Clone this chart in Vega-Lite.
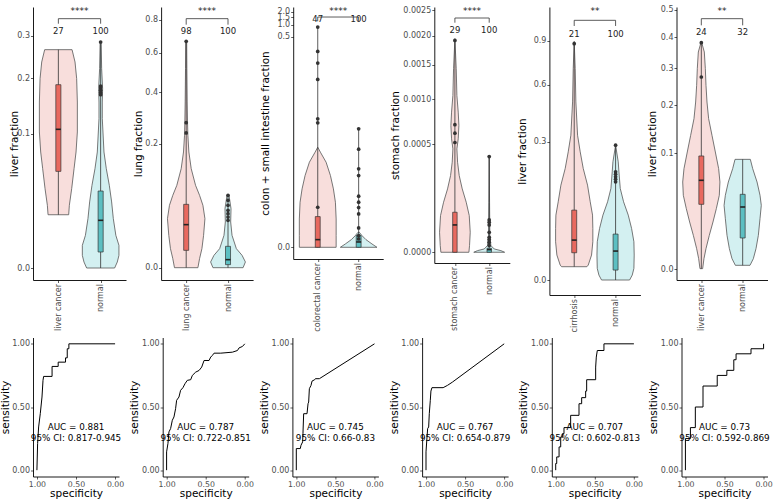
{
"$schema":"https://vega.github.io/schema/vega-lite/v6.json",
"padding":{"left":0,"top":5,"right":0,"bottom":0},
"background":"white",
"config":{
"view":{"stroke":null},
"font":"DejaVu Sans",
"axis":{"grid":false,"domainColor":"#000","domainWidth":0.9,"tickColor":"#333","tickSize":2.5,"tickWidth":0.8,"labelColor":"#4d4d4d","labelFontSize":8,"labelFont":"DejaVu Sans","titleFont":"DejaVu Sans","titleFontSize":10.5,"titleFontWeight":"normal","titleColor":"#000","labelPadding":1,"titlePadding":1,"labelOverlap":false,"labelFlush":false},
"axisX":{"labelOverlap":false},
"axisY":{"labelOverlap":false},
"axisQuantitative":{"labelOverlap":false},
"text":{"font":"DejaVu Sans","fontSize":8.5,"color":"#222","baseline":"middle"},
"rule":{"color":"#333","strokeWidth":0.8},
"circle":{"color":"#333","size":14,"opacity":1}
},
"datasets":{
"violin":[
{"p":1,"c":"case","y":0.2654,"d":0.324},{"p":1,"c":"case","y":0.2363,"d":0.394},{"p":1,"c":"case","y":0.1996,"d":0.433},{"p":1,"c":"case","y":0.1534,"d":0.449},{"p":1,"c":"case","y":0.103,"d":0.449},{"p":1,"c":"case","y":0.0749,"d":0.418},{"p":1,"c":"case","y":0.0549,"d":0.371},{"p":1,"c":"case","y":0.035,"d":0.315},{"p":1,"c":"case","y":0.0219,"d":0.26},{"p":1,"c":"case","y":0.0158,"d":0.244},
{"p":1,"c":"normal","y":0.2844,"d":0.012},{"p":1,"c":"normal","y":0.2212,"d":0.024},{"p":1,"c":"normal","y":0.1791,"d":0.047},{"p":1,"c":"normal","y":0.1534,"d":0.039},{"p":1,"c":"normal","y":0.1242,"d":0.039},{"p":1,"c":"normal","y":0.0749,"d":0.079},{"p":1,"c":"normal","y":0.0549,"d":0.134},{"p":1,"c":"normal","y":0.0381,"d":0.205},{"p":1,"c":"normal","y":0.0243,"d":0.26},{"p":1,"c":"normal","y":0.01355,"d":0.3},{"p":1,"c":"normal","y":0.00594,"d":0.36},{"p":1,"c":"normal","y":0.00286,"d":0.433},{"p":1,"c":"normal","y":0.000893,"d":0.433},{"p":1,"c":"normal","y":0.0002,"d":0.394},{"p":1,"c":"normal","y":0,"d":0.331},
{"p":2,"c":"case","y":0.6664,"d":0.012},{"p":2,"c":"case","y":0.5152,"d":0.016},{"p":2,"c":"case","y":0.3571,"d":0.024},{"p":2,"c":"case","y":0.2761,"d":0.032},{"p":2,"c":"case","y":0.2279,"d":0.04},{"p":2,"c":"case","y":0.1741,"d":0.064},{"p":2,"c":"case","y":0.1275,"d":0.12},{"p":2,"c":"case","y":0.0882,"d":0.224},{"p":2,"c":"case","y":0.0681,"d":0.32},{"p":2,"c":"case","y":0.0506,"d":0.4},{"p":2,"c":"case","y":0.03126,"d":0.448},{"p":2,"c":"case","y":0.01362,"d":0.416},{"p":2,"c":"case","y":0.00471,"d":0.376},{"p":2,"c":"case","y":0.00106,"d":0.32},{"p":2,"c":"case","y":0,"d":0.28},
{"p":2,"c":"normal","y":0.0681,"d":0.024},{"p":2,"c":"normal","y":0.0453,"d":0.072},{"p":2,"c":"normal","y":0.02716,"d":0.064},{"p":2,"c":"normal","y":0.01362,"d":0.096},{"p":2,"c":"normal","y":0.00471,"d":0.2},{"p":2,"c":"normal","y":0.00199,"d":0.336},{"p":2,"c":"normal","y":0.000424,"d":0.416},{"p":2,"c":"normal","y":0,"d":0.36},
{"p":3,"c":"case","y":5.2e-5,"d":0},{"p":3,"c":"case","y":2.76e-5,"d":0.065},{"p":3,"c":"case","y":7.01e-6,"d":0.204},{"p":3,"c":"case","y":8.53e-7,"d":0.31},{"p":3,"c":"case","y":6.7e-8,"d":0.383},{"p":3,"c":"case","y":2.73e-9,"d":0.432},{"p":3,"c":"case","y":8.9e-12,"d":0.45},{"p":3,"c":"case","y":1.6e-16,"d":0.45},{"p":3,"c":"case","y":0,"d":0.45},
{"p":3,"c":"normal","y":3.5e-15,"d":0.016},{"p":3,"c":"normal","y":1.6e-16,"d":0.081},{"p":3,"c":"normal","y":8.8e-19,"d":0.179},{"p":3,"c":"normal","y":3e-23,"d":0.326},{"p":3,"c":"normal","y":0,"d":0.448},
{"p":4,"c":"case","y":0.001946,"d":0},{"p":4,"c":"case","y":0.001437,"d":0.039},{"p":4,"c":"case","y":0.001049,"d":0.058},{"p":4,"c":"case","y":0.000838,"d":0.097},{"p":4,"c":"case","y":0.000686,"d":0.117},{"p":4,"c":"case","y":0.000549,"d":0.097},{"p":4,"c":"case","y":0.000456,"d":0.058},{"p":4,"c":"case","y":0.000346,"d":0.078},{"p":4,"c":"case","y":0.000251,"d":0.126},{"p":4,"c":"case","y":0.0001714,"d":0.214},{"p":4,"c":"case","y":0.0001069,"d":0.33},{"p":4,"c":"case","y":5.75e-5,"d":0.418},{"p":4,"c":"case","y":1.71e-5,"d":0.447},{"p":4,"c":"case","y":1.9e-6,"d":0.427},{"p":4,"c":"case","y":0,"d":0.408},
{"p":4,"c":"normal","y":0.0003995,"d":0},{"p":4,"c":"normal","y":0.0001069,"d":0.01},{"p":4,"c":"normal","y":1.19e-5,"d":0.019},{"p":4,"c":"normal","y":1.9e-6,"d":0.049},{"p":4,"c":"normal","y":4.7e-7,"d":0.146},{"p":4,"c":"normal","y":1.19e-7,"d":0.34},{"p":4,"c":"normal","y":0,"d":0.45},
{"p":5,"c":"case","y":0.8957,"d":0},{"p":5,"c":"case","y":0.7025,"d":0.024},{"p":5,"c":"case","y":0.4986,"d":0.04},{"p":5,"c":"case","y":0.3296,"d":0.081},{"p":5,"c":"case","y":0.2582,"d":0.145},{"p":5,"c":"case","y":0.1955,"d":0.218},{"p":5,"c":"case","y":0.1415,"d":0.322},{"p":5,"c":"case","y":0.0962,"d":0.387},{"p":5,"c":"case","y":0.0662,"d":0.443},{"p":5,"c":"case","y":0.0418,"d":0.45},{"p":5,"c":"case","y":0.023,"d":0.45},{"p":5,"c":"case","y":0.00978,"d":0.419},{"p":5,"c":"case","y":0.00352,"d":0.339},{"p":5,"c":"case","y":0.00278,"d":0.306},
{"p":5,"c":"normal","y":0.2857,"d":0},{"p":5,"c":"normal","y":0.2195,"d":0.064},{"p":5,"c":"normal","y":0.184,"d":0.081},{"p":5,"c":"normal","y":0.1317,"d":0.113},{"p":5,"c":"normal","y":0.0962,"d":0.193},{"p":5,"c":"normal","y":0.0662,"d":0.306},{"p":5,"c":"normal","y":0.0418,"d":0.387},{"p":5,"c":"normal","y":0.023,"d":0.443},{"p":5,"c":"normal","y":0.00978,"d":0.45},{"p":5,"c":"normal","y":0.002123,"d":0.443},{"p":5,"c":"normal","y":0.000387,"d":0.403},{"p":5,"c":"normal","y":0,"d":0.339},
{"p":6,"c":"case","y":0.3853,"d":0},{"p":6,"c":"case","y":0.35,"d":0.0725},{"p":6,"c":"case","y":0.2984,"d":0.097},{"p":6,"c":"case","y":0.2509,"d":0.113},{"p":6,"c":"case","y":0.2074,"d":0.137},{"p":6,"c":"case","y":0.1682,"d":0.177},{"p":6,"c":"case","y":0.133,"d":0.258},{"p":6,"c":"case","y":0.102,"d":0.339},{"p":6,"c":"case","y":0.0751,"d":0.419},{"p":6,"c":"case","y":0.0565,"d":0.45},{"p":6,"c":"case","y":0.0406,"d":0.435},{"p":6,"c":"case","y":0.02726,"d":0.363},{"p":6,"c":"case","y":0.01659,"d":0.282},{"p":6,"c":"case","y":0.00855,"d":0.193},{"p":6,"c":"case","y":0.00316,"d":0.113},{"p":6,"c":"case","y":0.000838,"d":0.064},{"p":6,"c":"case","y":0.0000029,"d":0.032},
{"p":6,"c":"normal","y":0.0896,"d":0.185},{"p":6,"c":"normal","y":0.0751,"d":0.242},{"p":6,"c":"normal","y":0.0565,"d":0.347},{"p":6,"c":"normal","y":0.0406,"d":0.419},{"p":6,"c":"normal","y":0.03033,"d":0.45},{"p":6,"c":"normal","y":0.019,"d":0.419},{"p":6,"c":"normal","y":0.00855,"d":0.379},{"p":6,"c":"normal","y":0.00316,"d":0.322},{"p":6,"c":"normal","y":0.000838,"d":0.258},{"p":6,"c":"normal","y":0.000117,"d":0.177}
],
"box":[
{"p":1,"c":"case","lo":0.0158,"q1":0.052,"med":0.1071,"q3":0.1871,"hi":0.2654},
{"p":1,"c":"normal","lo":0,"q1":0.00143,"med":0.01266,"q3":0.033,"hi":0.2844},
{"p":2,"c":"case","lo":0,"q1":0.00392,"med":0.0241,"q3":0.0522,"hi":0.6664},
{"p":2,"c":"normal","lo":0,"q1":0.00012,"med":0.00084,"q3":0.00594,"hi":0.0681},
{"p":3,"c":"case","lo":0,"q1":0,"med":8.8e-19,"q3":2.4e-11,"hi":0.8795},
{"p":3,"c":"normal","lo":0,"q1":0,"med":1e-20,"q3":1.6e-16,"hi":0.000416},
{"p":4,"c":"case","lo":0,"q1":0,"med":3.19e-5,"q3":6.84e-5,"hi":0.001915},
{"p":4,"c":"normal","lo":0,"q1":0,"med":3e-7,"q3":6.8e-7,"hi":0.000391},
{"p":5,"c":"case","lo":0.00278,"q1":0.01169,"med":0.02506,"q3":0.0768,"hi":0.8782},
{"p":5,"c":"normal","lo":0,"q1":0.00156,"med":0.01317,"q3":0.03315,"hi":0.2857},
{"p":6,"c":"case","lo":0.0000029,"q1":0.0313,"med":0.0587,"q3":0.0952,"hi":0.3853},
{"p":6,"c":"normal","lo":0.000117,"q1":0.00726,"med":0.02877,"q3":0.04166,"hi":0.0896}
],
"pts":[
{"p":1,"c":"normal","v":0.2844},{"p":1,"c":"normal","v":0.1844},{"p":1,"c":"normal","v":0.1804},{"p":1,"c":"normal","v":0.1757},{"p":1,"c":"normal","v":0.1711},{"p":1,"c":"normal","v":0.1673},
{"p":2,"c":"case","v":0.6664},{"p":2,"c":"case","v":0.2735},{"p":2,"c":"case","v":0.236},
{"p":2,"c":"normal","v":0.0681},{"p":2,"c":"normal","v":0.059},{"p":2,"c":"normal","v":0.0506},{"p":2,"c":"normal","v":0.0428},{"p":2,"c":"normal","v":0.038},{"p":2,"c":"normal","v":0.0334},{"p":2,"c":"normal","v":0.0292},
{"p":3,"c":"case","v":0.8795},{"p":3,"c":"case","v":0.2069},{"p":3,"c":"case","v":0.0968},{"p":3,"c":"case","v":0.0307},{"p":3,"c":"case","v":0.00113},{"p":3,"c":"case","v":0.000767},{"p":3,"c":"case","v":6.37e-10},
{"p":3,"c":"normal","v":0.000416},{"p":3,"c":"normal","v":4.05e-5},{"p":3,"c":"normal","v":2.56e-6},{"p":3,"c":"normal","v":8.53e-7},{"p":3,"c":"normal","v":1.28e-8},{"p":3,"c":"normal","v":2.73e-9},{"p":3,"c":"normal","v":5.7e-10},{"p":3,"c":"normal","v":6.7e-11},{"p":3,"c":"normal","v":8e-14},{"p":3,"c":"normal","v":1.6e-16},{"p":3,"c":"normal","v":2.5e-18},
{"p":4,"c":"case","v":0.001915},{"p":4,"c":"case","v":0.000695},{"p":4,"c":"case","v":0.000605},{"p":4,"c":"case","v":0.000514},
{"p":4,"c":"normal","v":0.000391},{"p":4,"c":"normal","v":4.47e-5},{"p":4,"c":"normal","v":3.85e-5},{"p":4,"c":"normal","v":3.19e-5},{"p":4,"c":"normal","v":1.71e-5},{"p":4,"c":"normal","v":9.6e-6},{"p":4,"c":"normal","v":6.86e-6},{"p":4,"c":"normal","v":4.27e-6},{"p":4,"c":"normal","v":1.9e-6},
{"p":5,"c":"case","v":0.8782},
{"p":5,"c":"normal","v":0.2857},{"p":5,"c":"normal","v":0.184},{"p":5,"c":"normal","v":0.1761},{"p":5,"c":"normal","v":0.1674},{"p":5,"c":"normal","v":0.1599},{"p":5,"c":"normal","v":0.1516},
{"p":6,"c":"case","v":0.3807},{"p":6,"c":"case","v":0.2741}
],
"nlab":[
{"p":1,"c":"case","n":"27","ny":0.3119},{"p":1,"c":"normal","n":"100","ny":0.3119},
{"p":2,"c":"case","n":"98","ny":0.7266},{"p":2,"c":"normal","n":"100","ny":0.7266},
{"p":3,"c":"case","n":"47","ny":1.342},{"p":3,"c":"normal","n":"100","ny":1.342},
{"p":4,"c":"case","n":"29","ny":0.0021},{"p":4,"c":"normal","n":"100","ny":0.0021},
{"p":5,"c":"case","n":"21","ny":0.9541},{"p":5,"c":"normal","n":"100","ny":0.9541},
{"p":6,"c":"case","n":"24","ny":0.4174},{"p":6,"c":"normal","n":"32","ny":0.4174}
],
"brk":[
{"p":1,"b1":0.3461,"b2":0.3323,"s":0.3678,"st":"****"},
{"p":2,"b1":0.8065,"b2":0.7681,"s":0.857,"st":"****"},
{"p":3,"b1":1.522,"b2":1.204,"s":2.092,"st":"****"},
{"p":4,"b1":0.002341,"b2":0.002248,"s":0.002482,"st":"****"},
{"p":5,"b1":1.0601,"b2":1.0143,"s":1.1375,"st":"**"},
{"p":6,"b1":0.4656,"b2":0.4412,"s":0.4945,"st":"**"}
],
"roc":[
{"p":1,"i":1,"sp":1,"se":0},{"p":1,"i":2,"sp":0.991,"se":0.211},{"p":1,"i":3,"sp":0.978,"se":0.342},{"p":1,"i":4,"sp":0.957,"se":0.447},{"p":1,"i":5,"sp":0.935,"se":0.579},{"p":1,"i":6,"sp":0.922,"se":0.711},{"p":1,"i":7,"sp":0.914,"se":0.742},{"p":1,"i":8,"sp":0.806,"se":0.742},{"p":1,"i":9,"sp":0.806,"se":0.821},{"p":1,"i":10,"sp":0.728,"se":0.821},{"p":1,"i":11,"sp":0.728,"se":0.855},{"p":1,"i":12,"sp":0.634,"se":0.855},{"p":1,"i":13,"sp":0.634,"se":0.889},{"p":1,"i":14,"sp":0.612,"se":0.889},{"p":1,"i":15,"sp":0.612,"se":0.961},{"p":1,"i":16,"sp":0.591,"se":0.961},{"p":1,"i":17,"sp":0.591,"se":1},{"p":1,"i":18,"sp":0,"se":1},
{"p":2,"i":1,"sp":1,"se":0},{"p":2,"i":2,"sp":1,"se":0.145},{"p":2,"i":3,"sp":0.983,"se":0.211},{"p":2,"i":4,"sp":0.97,"se":0.303},{"p":2,"i":5,"sp":0.949,"se":0.329},{"p":2,"i":6,"sp":0.927,"se":0.395},{"p":2,"i":7,"sp":0.906,"se":0.421},{"p":2,"i":8,"sp":0.885,"se":0.487},{"p":2,"i":9,"sp":0.872,"se":0.553},{"p":2,"i":10,"sp":0.842,"se":0.579},{"p":2,"i":11,"sp":0.821,"se":0.632},{"p":2,"i":12,"sp":0.791,"se":0.653},{"p":2,"i":13,"sp":0.765,"se":0.684},{"p":2,"i":14,"sp":0.735,"se":0.711},{"p":2,"i":15,"sp":0.692,"se":0.716},{"p":2,"i":16,"sp":0.671,"se":0.75},{"p":2,"i":17,"sp":0.628,"se":0.776},{"p":2,"i":18,"sp":0.585,"se":0.789},{"p":2,"i":19,"sp":0.551,"se":0.816},{"p":2,"i":20,"sp":0.521,"se":0.868},{"p":2,"i":21,"sp":0.457,"se":0.868},{"p":2,"i":22,"sp":0.436,"se":0.895},{"p":2,"i":23,"sp":0.415,"se":0.908},{"p":2,"i":24,"sp":0.393,"se":0.926},{"p":2,"i":25,"sp":0.308,"se":0.926},{"p":2,"i":26,"sp":0.158,"se":0.934},{"p":2,"i":27,"sp":0.094,"se":0.947},{"p":2,"i":28,"sp":0.073,"se":0.968},{"p":2,"i":29,"sp":0.03,"se":0.979},{"p":2,"i":30,"sp":0,"se":1},
{"p":3,"i":1,"sp":1,"se":0},{"p":3,"i":2,"sp":1,"se":0.171},{"p":3,"i":3,"sp":0.949,"se":0.171},{"p":3,"i":4,"sp":0.94,"se":0.197},{"p":3,"i":5,"sp":0.919,"se":0.224},{"p":3,"i":6,"sp":0.915,"se":0.289},{"p":3,"i":7,"sp":0.906,"se":0.447},{"p":3,"i":8,"sp":0.863,"se":0.447},{"p":3,"i":9,"sp":0.85,"se":0.526},{"p":3,"i":10,"sp":0.842,"se":0.539},{"p":3,"i":11,"sp":0.833,"se":0.645},{"p":3,"i":12,"sp":0.812,"se":0.671},{"p":3,"i":13,"sp":0.799,"se":0.705},{"p":3,"i":14,"sp":0.765,"se":0.716},{"p":3,"i":15,"sp":0.756,"se":0.724},{"p":3,"i":16,"sp":0.705,"se":0.724},{"p":3,"i":17,"sp":0,"se":1},
{"p":4,"i":1,"sp":1,"se":0},{"p":4,"i":2,"sp":1,"se":0.145},{"p":4,"i":3,"sp":0.987,"se":0.263},{"p":4,"i":4,"sp":0.979,"se":0.329},{"p":4,"i":5,"sp":0.966,"se":0.342},{"p":4,"i":6,"sp":0.958,"se":0.447},{"p":4,"i":7,"sp":0.945,"se":0.553},{"p":4,"i":8,"sp":0.937,"se":0.626},{"p":4,"i":9,"sp":0.924,"se":0.653},{"p":4,"i":10,"sp":0.781,"se":0.653},{"p":4,"i":11,"sp":0.726,"se":0.671},{"p":4,"i":12,"sp":0.662,"se":0.697},{"p":4,"i":13,"sp":0,"se":1},
{"p":5,"i":1,"sp":1,"se":0},{"p":5,"i":2,"sp":1,"se":0.053},{"p":5,"i":3,"sp":0.987,"se":0.053},{"p":5,"i":4,"sp":0.987,"se":0.105},{"p":5,"i":5,"sp":0.957,"se":0.105},{"p":5,"i":6,"sp":0.957,"se":0.184},{"p":5,"i":7,"sp":0.936,"se":0.184},{"p":5,"i":8,"sp":0.936,"se":0.263},{"p":5,"i":9,"sp":0.915,"se":0.263},{"p":5,"i":10,"sp":0.915,"se":0.289},{"p":5,"i":11,"sp":0.894,"se":0.289},{"p":5,"i":12,"sp":0.894,"se":0.337},{"p":5,"i":13,"sp":0.809,"se":0.337},{"p":5,"i":14,"sp":0.809,"se":0.434},{"p":5,"i":15,"sp":0.702,"se":0.434},{"p":5,"i":16,"sp":0.702,"se":0.526},{"p":5,"i":17,"sp":0.668,"se":0.526},{"p":5,"i":18,"sp":0.668,"se":0.574},{"p":5,"i":19,"sp":0.617,"se":0.574},{"p":5,"i":20,"sp":0.617,"se":0.626},{"p":5,"i":21,"sp":0.604,"se":0.626},{"p":5,"i":22,"sp":0.604,"se":0.716},{"p":5,"i":23,"sp":0.489,"se":0.716},{"p":5,"i":24,"sp":0.489,"se":0.816},{"p":5,"i":25,"sp":0.481,"se":0.895},{"p":5,"i":26,"sp":0.468,"se":0.947},{"p":5,"i":27,"sp":0.383,"se":0.947},{"p":5,"i":28,"sp":0.383,"se":1},{"p":5,"i":29,"sp":0,"se":1},
{"p":6,"i":1,"sp":1,"se":0},{"p":6,"i":2,"sp":1,"se":0.25},{"p":6,"i":3,"sp":0.936,"se":0.25},{"p":6,"i":4,"sp":0.936,"se":0.337},{"p":6,"i":5,"sp":0.873,"se":0.337},{"p":6,"i":6,"sp":0.873,"se":0.5},{"p":6,"i":7,"sp":0.775,"se":0.5},{"p":6,"i":8,"sp":0.775,"se":0.666},{"p":6,"i":9,"sp":0.593,"se":0.666},{"p":6,"i":10,"sp":0.593,"se":0.75},{"p":6,"i":11,"sp":0.47,"se":0.75},{"p":6,"i":12,"sp":0.47,"se":0.79},{"p":6,"i":13,"sp":0.381,"se":0.79},{"p":6,"i":14,"sp":0.381,"se":0.874},{"p":6,"i":15,"sp":0.352,"se":0.874},{"p":6,"i":16,"sp":0.352,"se":0.921},{"p":6,"i":17,"sp":0.161,"se":0.921},{"p":6,"i":18,"sp":0.161,"se":0.961},{"p":6,"i":19,"sp":0,"se":0.961},{"p":6,"i":20,"sp":0,"se":1}
],
"auc":[
{"p":1,"sp":0.5,"se":0.34,"t":"AUC = 0.881"},{"p":1,"sp":0.5,"se":0.255,"t":"95% CI: 0.817-0.945"},
{"p":2,"sp":0.5,"se":0.34,"t":"AUC = 0.787"},{"p":2,"sp":0.5,"se":0.255,"t":"95% CI: 0.722-0.851"},
{"p":3,"sp":0.5,"se":0.34,"t":"AUC = 0.745"},{"p":3,"sp":0.5,"se":0.255,"t":"95% CI: 0.66-0.83"},
{"p":4,"sp":0.5,"se":0.34,"t":"AUC = 0.767"},{"p":4,"sp":0.5,"se":0.255,"t":"95% CI: 0.654-0.879"},
{"p":5,"sp":0.5,"se":0.34,"t":"AUC = 0.707"},{"p":5,"sp":0.5,"se":0.255,"t":"95% CI: 0.602-0.813"},
{"p":6,"sp":0.5,"se":0.34,"t":"AUC = 0.73"},{"p":6,"sp":0.5,"se":0.255,"t":"95% CI: 0.592-0.869"}
]
},
"spacing":5.5,
"vconcat":[
{"spacing":7.1,"hconcat":[
{"width":93,"height":273,"layer":[
{"data":{"name":"violin"},"transform":[{"filter":"datum.p == 1"},{"calculate":"datum.c === 'normal' ? 2 : 1","as":"gi"},{"calculate":"datum.gi - datum.d","as":"lo"},{"calculate":"datum.gi + datum.d","as":"hi"}],
"mark":{"type":"area","orient":"horizontal","stroke":"#555","strokeWidth":0.8},
"encoding":{"y":{"field":"y","type":"quantitative","title":"liver fraction","scale":{"type":"sqrt","domain":[-0.0008,0.3793],"nice":false,"zero":false},"axis":{"values":[0,0.1,0.2,0.3],"format":".1f","minExtent":13,"maxExtent":13}},
"x":{"field":"lo","type":"quantitative","title":null,"scale":{"domain":[0.4,2.6],"nice":false,"zero":false},"axis":{"values":[1,2],"labelAngle":270,"labelExpr":"datum.value == 1 ? 'liver cancer' : 'normal'"}},
"x2":{"field":"hi"},
"fill":{"field":"c","type":"nominal","scale":{"domain":["case","normal"],"range":["#F8DEDC","#D3F0F1"]},"legend":null}}},
{"data":{"name":"box"},"transform":[{"filter":"datum.p == 1"},{"calculate":"datum.c === 'normal' ? 2 : 1","as":"gi"},{"calculate":"datum.gi - 0.06","as":"bl"},{"calculate":"datum.gi + 0.06","as":"br"}],
"layer":[
{"mark":"rule","encoding":{"x":{"field":"gi","type":"quantitative","title":null,"scale":{"domain":[0.4,2.6],"nice":false,"zero":false}},"y":{"field":"lo","type":"quantitative","title":"liver fraction","scale":{"type":"sqrt","domain":[-0.0008,0.3793],"nice":false,"zero":false}},"y2":{"field":"hi"}}},
{"mark":{"type":"rect","stroke":"#333","strokeWidth":0.7},"encoding":{"x":{"field":"bl","type":"quantitative","title":null,"scale":{"domain":[0.4,2.6],"nice":false,"zero":false}},"x2":{"field":"br"},"y":{"field":"q1","type":"quantitative","title":"liver fraction","scale":{"type":"sqrt","domain":[-0.0008,0.3793],"nice":false,"zero":false}},"y2":{"field":"q3"},"color":{"field":"c","type":"nominal","scale":{"domain":["case","normal"],"range":["#E8695F","#5CBFC2"]},"legend":null}}},
{"mark":{"type":"rule","strokeWidth":1.6,"color":"#222"},"encoding":{"x":{"field":"bl","type":"quantitative","title":null,"scale":{"domain":[0.4,2.6],"nice":false,"zero":false}},"x2":{"field":"br"},"y":{"field":"med","type":"quantitative","title":"liver fraction","scale":{"type":"sqrt","domain":[-0.0008,0.3793],"nice":false,"zero":false}}}}
]},
{"data":{"name":"pts"},"transform":[{"filter":"datum.p == 1"},{"calculate":"datum.c === 'normal' ? 2 : 1","as":"gi"}],"mark":"circle",
"encoding":{"x":{"field":"gi","type":"quantitative","title":null,"scale":{"domain":[0.4,2.6],"nice":false,"zero":false}},"y":{"field":"v","type":"quantitative","title":"liver fraction","scale":{"type":"sqrt","domain":[-0.0008,0.3793],"nice":false,"zero":false}}}},
{"data":{"name":"nlab"},"transform":[{"filter":"datum.p == 1"},{"calculate":"datum.c === 'normal' ? 2 : 1","as":"gi"}],"mark":"text",
"encoding":{"x":{"field":"gi","type":"quantitative","title":null,"scale":{"domain":[0.4,2.6],"nice":false,"zero":false}},"y":{"field":"ny","type":"quantitative","title":"liver fraction","scale":{"type":"sqrt","domain":[-0.0008,0.3793],"nice":false,"zero":false}},"text":{"field":"n"}}},
{"data":{"name":"brk"},"transform":[{"filter":"datum.p == 1"}],
"layer":[
{"mark":"rule","encoding":{"x":{"datum":1,"type":"quantitative","title":null,"scale":{"domain":[0.4,2.6],"nice":false,"zero":false}},"x2":{"datum":2},"y":{"field":"b1","type":"quantitative","title":"liver fraction","scale":{"type":"sqrt","domain":[-0.0008,0.3793],"nice":false,"zero":false}}}},
{"mark":"rule","encoding":{"x":{"datum":1,"type":"quantitative","title":null,"scale":{"domain":[0.4,2.6],"nice":false,"zero":false}},"y":{"field":"b2","type":"quantitative","title":"liver fraction","scale":{"type":"sqrt","domain":[-0.0008,0.3793],"nice":false,"zero":false}},"y2":{"field":"b1"}}},
{"mark":"rule","encoding":{"x":{"datum":2,"type":"quantitative","title":null,"scale":{"domain":[0.4,2.6],"nice":false,"zero":false}},"y":{"field":"b2","type":"quantitative","title":"liver fraction","scale":{"type":"sqrt","domain":[-0.0008,0.3793],"nice":false,"zero":false}},"y2":{"field":"b1"}}},
{"mark":{"type":"text","fontSize":9},"encoding":{"x":{"datum":1.5,"type":"quantitative","title":null,"scale":{"domain":[0.4,2.6],"nice":false,"zero":false}},"y":{"field":"s","type":"quantitative","title":"liver fraction","scale":{"type":"sqrt","domain":[-0.0008,0.3793],"nice":false,"zero":false}},"text":{"field":"st"}}}
]}
]},
{"width":92,"height":273,"layer":[
{"data":{"name":"violin"},"transform":[{"filter":"datum.p == 2"},{"calculate":"datum.c === 'normal' ? 2 : 1","as":"gi"},{"calculate":"datum.gi - datum.d","as":"lo"},{"calculate":"datum.gi + datum.d","as":"hi"}],
"mark":{"type":"area","orient":"horizontal","stroke":"#555","strokeWidth":0.8},
"encoding":{"y":{"field":"y","type":"quantitative","title":"lung fraction","scale":{"type":"sqrt","domain":[-0.00197,0.8838],"nice":false,"zero":false},"axis":{"values":[0,0.2,0.4,0.6,0.8],"format":".1f","minExtent":16.5,"maxExtent":16.5}},
"x":{"field":"lo","type":"quantitative","title":null,"scale":{"domain":[0.4,2.6],"nice":false,"zero":false},"axis":{"values":[1,2],"labelAngle":270,"labelExpr":"datum.value == 1 ? 'lung cancer' : 'normal'"}},
"x2":{"field":"hi"},
"fill":{"field":"c","type":"nominal","scale":{"domain":["case","normal"],"range":["#F8DEDC","#D3F0F1"]},"legend":null}}},
{"data":{"name":"box"},"transform":[{"filter":"datum.p == 2"},{"calculate":"datum.c === 'normal' ? 2 : 1","as":"gi"},{"calculate":"datum.gi - 0.06","as":"bl"},{"calculate":"datum.gi + 0.06","as":"br"}],
"layer":[
{"mark":"rule","encoding":{"x":{"field":"gi","type":"quantitative","title":null,"scale":{"domain":[0.4,2.6],"nice":false,"zero":false}},"y":{"field":"lo","type":"quantitative","title":"lung fraction","scale":{"type":"sqrt","domain":[-0.00197,0.8838],"nice":false,"zero":false}},"y2":{"field":"hi"}}},
{"mark":{"type":"rect","stroke":"#333","strokeWidth":0.7},"encoding":{"x":{"field":"bl","type":"quantitative","title":null,"scale":{"domain":[0.4,2.6],"nice":false,"zero":false}},"x2":{"field":"br"},"y":{"field":"q1","type":"quantitative","title":"lung fraction","scale":{"type":"sqrt","domain":[-0.00197,0.8838],"nice":false,"zero":false}},"y2":{"field":"q3"},"color":{"field":"c","type":"nominal","scale":{"domain":["case","normal"],"range":["#E8695F","#5CBFC2"]},"legend":null}}},
{"mark":{"type":"rule","strokeWidth":1.6,"color":"#222"},"encoding":{"x":{"field":"bl","type":"quantitative","title":null,"scale":{"domain":[0.4,2.6],"nice":false,"zero":false}},"x2":{"field":"br"},"y":{"field":"med","type":"quantitative","title":"lung fraction","scale":{"type":"sqrt","domain":[-0.00197,0.8838],"nice":false,"zero":false}}}}
]},
{"data":{"name":"pts"},"transform":[{"filter":"datum.p == 2"},{"calculate":"datum.c === 'normal' ? 2 : 1","as":"gi"}],"mark":"circle",
"encoding":{"x":{"field":"gi","type":"quantitative","title":null,"scale":{"domain":[0.4,2.6],"nice":false,"zero":false}},"y":{"field":"v","type":"quantitative","title":"lung fraction","scale":{"type":"sqrt","domain":[-0.00197,0.8838],"nice":false,"zero":false}}}},
{"data":{"name":"nlab"},"transform":[{"filter":"datum.p == 2"},{"calculate":"datum.c === 'normal' ? 2 : 1","as":"gi"}],"mark":"text",
"encoding":{"x":{"field":"gi","type":"quantitative","title":null,"scale":{"domain":[0.4,2.6],"nice":false,"zero":false}},"y":{"field":"ny","type":"quantitative","title":"lung fraction","scale":{"type":"sqrt","domain":[-0.00197,0.8838],"nice":false,"zero":false}},"text":{"field":"n"}}},
{"data":{"name":"brk"},"transform":[{"filter":"datum.p == 2"}],
"layer":[
{"mark":"rule","encoding":{"x":{"datum":1,"type":"quantitative","title":null,"scale":{"domain":[0.4,2.6],"nice":false,"zero":false}},"x2":{"datum":2},"y":{"field":"b1","type":"quantitative","title":"lung fraction","scale":{"type":"sqrt","domain":[-0.00197,0.8838],"nice":false,"zero":false}}}},
{"mark":"rule","encoding":{"x":{"datum":1,"type":"quantitative","title":null,"scale":{"domain":[0.4,2.6],"nice":false,"zero":false}},"y":{"field":"b2","type":"quantitative","title":"lung fraction","scale":{"type":"sqrt","domain":[-0.00197,0.8838],"nice":false,"zero":false}},"y2":{"field":"b1"}}},
{"mark":"rule","encoding":{"x":{"datum":2,"type":"quantitative","title":null,"scale":{"domain":[0.4,2.6],"nice":false,"zero":false}},"y":{"field":"b2","type":"quantitative","title":"lung fraction","scale":{"type":"sqrt","domain":[-0.00197,0.8838],"nice":false,"zero":false}},"y2":{"field":"b1"}}},
{"mark":{"type":"text","fontSize":9},"encoding":{"x":{"datum":1.5,"type":"quantitative","title":null,"scale":{"domain":[0.4,2.6],"nice":false,"zero":false}},"y":{"field":"s","type":"quantitative","title":"lung fraction","scale":{"type":"sqrt","domain":[-0.00197,0.8838],"nice":false,"zero":false}},"text":{"field":"st"}}}
]}
]},
{"width":90,"height":252,"layer":[
{"data":{"name":"violin"},"transform":[{"filter":"datum.p == 3"},{"calculate":"datum.c === 'normal' ? 2 : 1","as":"gi"},{"calculate":"datum.gi - datum.d","as":"lo"},{"calculate":"datum.gi + datum.d","as":"hi"}],
"mark":{"type":"area","orient":"horizontal","stroke":"#555","strokeWidth":0.8},
"encoding":{"y":{"field":"y","type":"quantitative","title":"colon + small intestine fraction","scale":{"type":"pow","exponent":0.081,"domain":[-1.6e-16,2.575],"nice":false,"zero":false},"axis":{"values":[0,0.5,1,1.5,2],"format":".1f","minExtent":22,"maxExtent":22}},
"x":{"field":"lo","type":"quantitative","title":null,"scale":{"domain":[0.4,2.6],"nice":false,"zero":false},"axis":{"values":[1,2],"labelAngle":270,"labelExpr":"datum.value == 1 ? 'colorectal cancer' : 'normal'"}},
"x2":{"field":"hi"},
"fill":{"field":"c","type":"nominal","scale":{"domain":["case","normal"],"range":["#F8DEDC","#D3F0F1"]},"legend":null}}},
{"data":{"name":"box"},"transform":[{"filter":"datum.p == 3"},{"calculate":"datum.c === 'normal' ? 2 : 1","as":"gi"},{"calculate":"datum.gi - 0.06","as":"bl"},{"calculate":"datum.gi + 0.06","as":"br"}],
"layer":[
{"mark":"rule","encoding":{"x":{"field":"gi","type":"quantitative","title":null,"scale":{"domain":[0.4,2.6],"nice":false,"zero":false}},"y":{"field":"lo","type":"quantitative","title":"colon + small intestine fraction","scale":{"type":"pow","exponent":0.081,"domain":[-1.6e-16,2.575],"nice":false,"zero":false}},"y2":{"field":"hi"}}},
{"mark":{"type":"rect","stroke":"#333","strokeWidth":0.7},"encoding":{"x":{"field":"bl","type":"quantitative","title":null,"scale":{"domain":[0.4,2.6],"nice":false,"zero":false}},"x2":{"field":"br"},"y":{"field":"q1","type":"quantitative","title":"colon + small intestine fraction","scale":{"type":"pow","exponent":0.081,"domain":[-1.6e-16,2.575],"nice":false,"zero":false}},"y2":{"field":"q3"},"color":{"field":"c","type":"nominal","scale":{"domain":["case","normal"],"range":["#E8695F","#5CBFC2"]},"legend":null}}},
{"mark":{"type":"rule","strokeWidth":1.6,"color":"#222"},"encoding":{"x":{"field":"bl","type":"quantitative","title":null,"scale":{"domain":[0.4,2.6],"nice":false,"zero":false}},"x2":{"field":"br"},"y":{"field":"med","type":"quantitative","title":"colon + small intestine fraction","scale":{"type":"pow","exponent":0.081,"domain":[-1.6e-16,2.575],"nice":false,"zero":false}}}}
]},
{"data":{"name":"pts"},"transform":[{"filter":"datum.p == 3"},{"calculate":"datum.c === 'normal' ? 2 : 1","as":"gi"}],"mark":"circle",
"encoding":{"x":{"field":"gi","type":"quantitative","title":null,"scale":{"domain":[0.4,2.6],"nice":false,"zero":false}},"y":{"field":"v","type":"quantitative","title":"colon + small intestine fraction","scale":{"type":"pow","exponent":0.081,"domain":[-1.6e-16,2.575],"nice":false,"zero":false}}}},
{"data":{"name":"nlab"},"transform":[{"filter":"datum.p == 3"},{"calculate":"datum.c === 'normal' ? 2 : 1","as":"gi"}],"mark":"text",
"encoding":{"x":{"field":"gi","type":"quantitative","title":null,"scale":{"domain":[0.4,2.6],"nice":false,"zero":false}},"y":{"field":"ny","type":"quantitative","title":"colon + small intestine fraction","scale":{"type":"pow","exponent":0.081,"domain":[-1.6e-16,2.575],"nice":false,"zero":false}},"text":{"field":"n"}}},
{"data":{"name":"brk"},"transform":[{"filter":"datum.p == 3"}],
"layer":[
{"mark":"rule","encoding":{"x":{"datum":1,"type":"quantitative","title":null,"scale":{"domain":[0.4,2.6],"nice":false,"zero":false}},"x2":{"datum":2},"y":{"field":"b1","type":"quantitative","title":"colon + small intestine fraction","scale":{"type":"pow","exponent":0.081,"domain":[-1.6e-16,2.575],"nice":false,"zero":false}}}},
{"mark":"rule","encoding":{"x":{"datum":1,"type":"quantitative","title":null,"scale":{"domain":[0.4,2.6],"nice":false,"zero":false}},"y":{"field":"b2","type":"quantitative","title":"colon + small intestine fraction","scale":{"type":"pow","exponent":0.081,"domain":[-1.6e-16,2.575],"nice":false,"zero":false}},"y2":{"field":"b1"}}},
{"mark":"rule","encoding":{"x":{"datum":2,"type":"quantitative","title":null,"scale":{"domain":[0.4,2.6],"nice":false,"zero":false}},"y":{"field":"b2","type":"quantitative","title":"colon + small intestine fraction","scale":{"type":"pow","exponent":0.081,"domain":[-1.6e-16,2.575],"nice":false,"zero":false}},"y2":{"field":"b1"}}},
{"mark":{"type":"text","fontSize":9},"encoding":{"x":{"datum":1.5,"type":"quantitative","title":null,"scale":{"domain":[0.4,2.6],"nice":false,"zero":false}},"y":{"field":"s","type":"quantitative","title":"colon + small intestine fraction","scale":{"type":"pow","exponent":0.081,"domain":[-1.6e-16,2.575],"nice":false,"zero":false}},"text":{"field":"st"}}}
]}
]},
{"width":75.5,"height":256,"layer":[
{"data":{"name":"violin"},"transform":[{"filter":"datum.p == 4"},{"calculate":"datum.c === 'normal' ? 2 : 1","as":"gi"},{"calculate":"datum.gi - datum.d","as":"lo"},{"calculate":"datum.gi + datum.d","as":"hi"}],
"mark":{"type":"area","orient":"horizontal","stroke":"#555","strokeWidth":0.8},
"encoding":{"y":{"field":"y","type":"quantitative","title":"stomach fraction","scale":{"type":"sqrt","domain":[-0.0000049,0.002566],"nice":false,"zero":false},"axis":{"values":[0,0.0005,0.001,0.0015,0.002,0.0025],"format":".4f","minExtent":32.5,"maxExtent":32.5}},
"x":{"field":"lo","type":"quantitative","title":null,"scale":{"domain":[0.4,2.6],"nice":false,"zero":false},"axis":{"values":[1,2],"labelAngle":270,"labelExpr":"datum.value == 1 ? 'stomach cancer' : 'normal'"}},
"x2":{"field":"hi"},
"fill":{"field":"c","type":"nominal","scale":{"domain":["case","normal"],"range":["#F8DEDC","#D3F0F1"]},"legend":null}}},
{"data":{"name":"box"},"transform":[{"filter":"datum.p == 4"},{"calculate":"datum.c === 'normal' ? 2 : 1","as":"gi"},{"calculate":"datum.gi - 0.065","as":"bl"},{"calculate":"datum.gi + 0.065","as":"br"}],
"layer":[
{"mark":"rule","encoding":{"x":{"field":"gi","type":"quantitative","title":null,"scale":{"domain":[0.4,2.6],"nice":false,"zero":false}},"y":{"field":"lo","type":"quantitative","title":"stomach fraction","scale":{"type":"sqrt","domain":[-0.0000049,0.002566],"nice":false,"zero":false}},"y2":{"field":"hi"}}},
{"mark":{"type":"rect","stroke":"#333","strokeWidth":0.7},"encoding":{"x":{"field":"bl","type":"quantitative","title":null,"scale":{"domain":[0.4,2.6],"nice":false,"zero":false}},"x2":{"field":"br"},"y":{"field":"q1","type":"quantitative","title":"stomach fraction","scale":{"type":"sqrt","domain":[-0.0000049,0.002566],"nice":false,"zero":false}},"y2":{"field":"q3"},"color":{"field":"c","type":"nominal","scale":{"domain":["case","normal"],"range":["#E8695F","#5CBFC2"]},"legend":null}}},
{"mark":{"type":"rule","strokeWidth":1.6,"color":"#222"},"encoding":{"x":{"field":"bl","type":"quantitative","title":null,"scale":{"domain":[0.4,2.6],"nice":false,"zero":false}},"x2":{"field":"br"},"y":{"field":"med","type":"quantitative","title":"stomach fraction","scale":{"type":"sqrt","domain":[-0.0000049,0.002566],"nice":false,"zero":false}}}}
]},
{"data":{"name":"pts"},"transform":[{"filter":"datum.p == 4"},{"calculate":"datum.c === 'normal' ? 2 : 1","as":"gi"}],"mark":"circle",
"encoding":{"x":{"field":"gi","type":"quantitative","title":null,"scale":{"domain":[0.4,2.6],"nice":false,"zero":false}},"y":{"field":"v","type":"quantitative","title":"stomach fraction","scale":{"type":"sqrt","domain":[-0.0000049,0.002566],"nice":false,"zero":false}}}},
{"data":{"name":"nlab"},"transform":[{"filter":"datum.p == 4"},{"calculate":"datum.c === 'normal' ? 2 : 1","as":"gi"}],"mark":"text",
"encoding":{"x":{"field":"gi","type":"quantitative","title":null,"scale":{"domain":[0.4,2.6],"nice":false,"zero":false}},"y":{"field":"ny","type":"quantitative","title":"stomach fraction","scale":{"type":"sqrt","domain":[-0.0000049,0.002566],"nice":false,"zero":false}},"text":{"field":"n"}}},
{"data":{"name":"brk"},"transform":[{"filter":"datum.p == 4"}],
"layer":[
{"mark":"rule","encoding":{"x":{"datum":1,"type":"quantitative","title":null,"scale":{"domain":[0.4,2.6],"nice":false,"zero":false}},"x2":{"datum":2},"y":{"field":"b1","type":"quantitative","title":"stomach fraction","scale":{"type":"sqrt","domain":[-0.0000049,0.002566],"nice":false,"zero":false}}}},
{"mark":"rule","encoding":{"x":{"datum":1,"type":"quantitative","title":null,"scale":{"domain":[0.4,2.6],"nice":false,"zero":false}},"y":{"field":"b2","type":"quantitative","title":"stomach fraction","scale":{"type":"sqrt","domain":[-0.0000049,0.002566],"nice":false,"zero":false}},"y2":{"field":"b1"}}},
{"mark":"rule","encoding":{"x":{"datum":2,"type":"quantitative","title":null,"scale":{"domain":[0.4,2.6],"nice":false,"zero":false}},"y":{"field":"b2","type":"quantitative","title":"stomach fraction","scale":{"type":"sqrt","domain":[-0.0000049,0.002566],"nice":false,"zero":false}},"y2":{"field":"b1"}}},
{"mark":{"type":"text","fontSize":9},"encoding":{"x":{"datum":1.5,"type":"quantitative","title":null,"scale":{"domain":[0.4,2.6],"nice":false,"zero":false}},"y":{"field":"s","type":"quantitative","title":"stomach fraction","scale":{"type":"sqrt","domain":[-0.0000049,0.002566],"nice":false,"zero":false}},"text":{"field":"st"}}}
]}
]},
{"width":91,"height":288,"layer":[
{"data":{"name":"violin"},"transform":[{"filter":"datum.p == 5"},{"calculate":"datum.c === 'normal' ? 2 : 1","as":"gi"},{"calculate":"datum.gi - datum.d","as":"lo"},{"calculate":"datum.gi + datum.d","as":"hi"}],
"mark":{"type":"area","orient":"horizontal","stroke":"#555","strokeWidth":0.8},
"encoding":{"y":{"field":"y","type":"quantitative","title":"liver fraction","scale":{"type":"sqrt","domain":[-0.00353,1.1716],"nice":false,"zero":false},"axis":{"values":[0,0.3,0.6,0.9],"format":".1f","minExtent":21,"maxExtent":21}},
"x":{"field":"lo","type":"quantitative","title":null,"scale":{"domain":[0.4,2.6],"nice":false,"zero":false},"axis":{"values":[1,2],"labelAngle":270,"labelExpr":"datum.value == 1 ? 'cirrhosis' : 'normal'"}},
"x2":{"field":"hi"},
"fill":{"field":"c","type":"nominal","scale":{"domain":["case","normal"],"range":["#F8DEDC","#D3F0F1"]},"legend":null}}},
{"data":{"name":"box"},"transform":[{"filter":"datum.p == 5"},{"calculate":"datum.c === 'normal' ? 2 : 1","as":"gi"},{"calculate":"datum.gi - 0.06","as":"bl"},{"calculate":"datum.gi + 0.06","as":"br"}],
"layer":[
{"mark":"rule","encoding":{"x":{"field":"gi","type":"quantitative","title":null,"scale":{"domain":[0.4,2.6],"nice":false,"zero":false}},"y":{"field":"lo","type":"quantitative","title":"liver fraction","scale":{"type":"sqrt","domain":[-0.00353,1.1716],"nice":false,"zero":false}},"y2":{"field":"hi"}}},
{"mark":{"type":"rect","stroke":"#333","strokeWidth":0.7},"encoding":{"x":{"field":"bl","type":"quantitative","title":null,"scale":{"domain":[0.4,2.6],"nice":false,"zero":false}},"x2":{"field":"br"},"y":{"field":"q1","type":"quantitative","title":"liver fraction","scale":{"type":"sqrt","domain":[-0.00353,1.1716],"nice":false,"zero":false}},"y2":{"field":"q3"},"color":{"field":"c","type":"nominal","scale":{"domain":["case","normal"],"range":["#E8695F","#5CBFC2"]},"legend":null}}},
{"mark":{"type":"rule","strokeWidth":1.6,"color":"#222"},"encoding":{"x":{"field":"bl","type":"quantitative","title":null,"scale":{"domain":[0.4,2.6],"nice":false,"zero":false}},"x2":{"field":"br"},"y":{"field":"med","type":"quantitative","title":"liver fraction","scale":{"type":"sqrt","domain":[-0.00353,1.1716],"nice":false,"zero":false}}}}
]},
{"data":{"name":"pts"},"transform":[{"filter":"datum.p == 5"},{"calculate":"datum.c === 'normal' ? 2 : 1","as":"gi"}],"mark":"circle",
"encoding":{"x":{"field":"gi","type":"quantitative","title":null,"scale":{"domain":[0.4,2.6],"nice":false,"zero":false}},"y":{"field":"v","type":"quantitative","title":"liver fraction","scale":{"type":"sqrt","domain":[-0.00353,1.1716],"nice":false,"zero":false}}}},
{"data":{"name":"nlab"},"transform":[{"filter":"datum.p == 5"},{"calculate":"datum.c === 'normal' ? 2 : 1","as":"gi"}],"mark":"text",
"encoding":{"x":{"field":"gi","type":"quantitative","title":null,"scale":{"domain":[0.4,2.6],"nice":false,"zero":false}},"y":{"field":"ny","type":"quantitative","title":"liver fraction","scale":{"type":"sqrt","domain":[-0.00353,1.1716],"nice":false,"zero":false}},"text":{"field":"n"}}},
{"data":{"name":"brk"},"transform":[{"filter":"datum.p == 5"}],
"layer":[
{"mark":"rule","encoding":{"x":{"datum":1,"type":"quantitative","title":null,"scale":{"domain":[0.4,2.6],"nice":false,"zero":false}},"x2":{"datum":2},"y":{"field":"b1","type":"quantitative","title":"liver fraction","scale":{"type":"sqrt","domain":[-0.00353,1.1716],"nice":false,"zero":false}}}},
{"mark":"rule","encoding":{"x":{"datum":1,"type":"quantitative","title":null,"scale":{"domain":[0.4,2.6],"nice":false,"zero":false}},"y":{"field":"b2","type":"quantitative","title":"liver fraction","scale":{"type":"sqrt","domain":[-0.00353,1.1716],"nice":false,"zero":false}},"y2":{"field":"b1"}}},
{"mark":"rule","encoding":{"x":{"datum":2,"type":"quantitative","title":null,"scale":{"domain":[0.4,2.6],"nice":false,"zero":false}},"y":{"field":"b2","type":"quantitative","title":"liver fraction","scale":{"type":"sqrt","domain":[-0.00353,1.1716],"nice":false,"zero":false}},"y2":{"field":"b1"}}},
{"mark":{"type":"text","fontSize":9},"encoding":{"x":{"datum":1.5,"type":"quantitative","title":null,"scale":{"domain":[0.4,2.6],"nice":false,"zero":false}},"y":{"field":"s","type":"quantitative","title":"liver fraction","scale":{"type":"sqrt","domain":[-0.00353,1.1716],"nice":false,"zero":false}},"text":{"field":"st"}}}
]}
]},
{"width":91,"height":273,"layer":[
{"data":{"name":"violin"},"transform":[{"filter":"datum.p == 6"},{"calculate":"datum.c === 'normal' ? 2 : 1","as":"gi"},{"calculate":"datum.gi - datum.d","as":"lo"},{"calculate":"datum.gi + datum.d","as":"hi"}],
"mark":{"type":"area","orient":"horizontal","stroke":"#555","strokeWidth":0.8},
"encoding":{"y":{"field":"y","type":"quantitative","title":"liver fraction","scale":{"type":"sqrt","domain":[-0.00085,0.51],"nice":false,"zero":false},"axis":{"values":[0,0.1,0.2,0.3,0.4,0.5],"format":".1f","minExtent":18,"maxExtent":18}},
"x":{"field":"lo","type":"quantitative","title":null,"scale":{"domain":[0.4,2.6],"nice":false,"zero":false},"axis":{"values":[1,2],"labelAngle":270,"labelExpr":"datum.value == 1 ? 'liver cancer' : 'normal'"}},
"x2":{"field":"hi"},
"fill":{"field":"c","type":"nominal","scale":{"domain":["case","normal"],"range":["#F8DEDC","#D3F0F1"]},"legend":null}}},
{"data":{"name":"box"},"transform":[{"filter":"datum.p == 6"},{"calculate":"datum.c === 'normal' ? 2 : 1","as":"gi"},{"calculate":"datum.gi - 0.06","as":"bl"},{"calculate":"datum.gi + 0.06","as":"br"}],
"layer":[
{"mark":"rule","encoding":{"x":{"field":"gi","type":"quantitative","title":null,"scale":{"domain":[0.4,2.6],"nice":false,"zero":false}},"y":{"field":"lo","type":"quantitative","title":"liver fraction","scale":{"type":"sqrt","domain":[-0.00085,0.51],"nice":false,"zero":false}},"y2":{"field":"hi"}}},
{"mark":{"type":"rect","stroke":"#333","strokeWidth":0.7},"encoding":{"x":{"field":"bl","type":"quantitative","title":null,"scale":{"domain":[0.4,2.6],"nice":false,"zero":false}},"x2":{"field":"br"},"y":{"field":"q1","type":"quantitative","title":"liver fraction","scale":{"type":"sqrt","domain":[-0.00085,0.51],"nice":false,"zero":false}},"y2":{"field":"q3"},"color":{"field":"c","type":"nominal","scale":{"domain":["case","normal"],"range":["#E8695F","#5CBFC2"]},"legend":null}}},
{"mark":{"type":"rule","strokeWidth":1.6,"color":"#222"},"encoding":{"x":{"field":"bl","type":"quantitative","title":null,"scale":{"domain":[0.4,2.6],"nice":false,"zero":false}},"x2":{"field":"br"},"y":{"field":"med","type":"quantitative","title":"liver fraction","scale":{"type":"sqrt","domain":[-0.00085,0.51],"nice":false,"zero":false}}}}
]},
{"data":{"name":"pts"},"transform":[{"filter":"datum.p == 6"},{"calculate":"datum.c === 'normal' ? 2 : 1","as":"gi"}],"mark":"circle",
"encoding":{"x":{"field":"gi","type":"quantitative","title":null,"scale":{"domain":[0.4,2.6],"nice":false,"zero":false}},"y":{"field":"v","type":"quantitative","title":"liver fraction","scale":{"type":"sqrt","domain":[-0.00085,0.51],"nice":false,"zero":false}}}},
{"data":{"name":"nlab"},"transform":[{"filter":"datum.p == 6"},{"calculate":"datum.c === 'normal' ? 2 : 1","as":"gi"}],"mark":"text",
"encoding":{"x":{"field":"gi","type":"quantitative","title":null,"scale":{"domain":[0.4,2.6],"nice":false,"zero":false}},"y":{"field":"ny","type":"quantitative","title":"liver fraction","scale":{"type":"sqrt","domain":[-0.00085,0.51],"nice":false,"zero":false}},"text":{"field":"n"}}},
{"data":{"name":"brk"},"transform":[{"filter":"datum.p == 6"}],
"layer":[
{"mark":"rule","encoding":{"x":{"datum":1,"type":"quantitative","title":null,"scale":{"domain":[0.4,2.6],"nice":false,"zero":false}},"x2":{"datum":2},"y":{"field":"b1","type":"quantitative","title":"liver fraction","scale":{"type":"sqrt","domain":[-0.00085,0.51],"nice":false,"zero":false}}}},
{"mark":"rule","encoding":{"x":{"datum":1,"type":"quantitative","title":null,"scale":{"domain":[0.4,2.6],"nice":false,"zero":false}},"y":{"field":"b2","type":"quantitative","title":"liver fraction","scale":{"type":"sqrt","domain":[-0.00085,0.51],"nice":false,"zero":false}},"y2":{"field":"b1"}}},
{"mark":"rule","encoding":{"x":{"datum":2,"type":"quantitative","title":null,"scale":{"domain":[0.4,2.6],"nice":false,"zero":false}},"y":{"field":"b2","type":"quantitative","title":"liver fraction","scale":{"type":"sqrt","domain":[-0.00085,0.51],"nice":false,"zero":false}},"y2":{"field":"b1"}}},
{"mark":{"type":"text","fontSize":9},"encoding":{"x":{"datum":1.5,"type":"quantitative","title":null,"scale":{"domain":[0.4,2.6],"nice":false,"zero":false}},"y":{"field":"s","type":"quantitative","title":"liver fraction","scale":{"type":"sqrt","domain":[-0.00085,0.51],"nice":false,"zero":false}},"text":{"field":"st"}}}
]}
]}
]},
{"spacing":5.7,"hconcat":[
{"width":86,"height":139,"layer":[
{"data":{"name":"roc"},"transform":[{"filter":"datum.p == 1"}],"mark":{"type":"line","color":"#000","strokeWidth":1},
"encoding":{"x":{"field":"sp","type":"quantitative","title":"specificity","scale":{"domain":[-0.05,1.05],"reverse":true,"nice":false,"zero":false},"axis":{"values":[0,0.25,0.5,0.75,1],"format":".2f","titlePadding":1,"labelFontSize":7.8,"labelOverlap":false,"labelSeparation":0}},"y":{"field":"se","type":"quantitative","title":"sensitivity","scale":{"domain":[-0.05,1.05],"nice":false,"zero":false},"axis":{"values":[0,0.25,0.5,0.75,1],"format":".2f","minExtent":22,"maxExtent":22}},"order":{"field":"i","type":"quantitative"}}},
{"data":{"name":"auc"},"transform":[{"filter":"datum.p == 1"}],"mark":{"type":"text","fontSize":8.8,"color":"#000"},
"encoding":{"x":{"field":"sp","type":"quantitative","title":"specificity","scale":{"domain":[-0.05,1.05],"reverse":true,"nice":false,"zero":false}},"y":{"field":"se","type":"quantitative","title":"sensitivity","scale":{"domain":[-0.05,1.05],"nice":false,"zero":false}},"text":{"field":"t"}}}
]},
{"width":86,"height":139,"layer":[
{"data":{"name":"roc"},"transform":[{"filter":"datum.p == 2"}],"mark":{"type":"line","color":"#000","strokeWidth":1},
"encoding":{"x":{"field":"sp","type":"quantitative","title":"specificity","scale":{"domain":[-0.05,1.05],"reverse":true,"nice":false,"zero":false},"axis":{"values":[0,0.25,0.5,0.75,1],"format":".2f","titlePadding":1,"labelFontSize":7.8,"labelOverlap":false,"labelSeparation":0}},"y":{"field":"se","type":"quantitative","title":"sensitivity","scale":{"domain":[-0.05,1.05],"nice":false,"zero":false},"axis":{"values":[0,0.25,0.5,0.75,1],"format":".2f","minExtent":22,"maxExtent":22}},"order":{"field":"i","type":"quantitative"}}},
{"data":{"name":"auc"},"transform":[{"filter":"datum.p == 2"}],"mark":{"type":"text","fontSize":8.8,"color":"#000"},
"encoding":{"x":{"field":"sp","type":"quantitative","title":"specificity","scale":{"domain":[-0.05,1.05],"reverse":true,"nice":false,"zero":false}},"y":{"field":"se","type":"quantitative","title":"sensitivity","scale":{"domain":[-0.05,1.05],"nice":false,"zero":false}},"text":{"field":"t"}}}
]},
{"width":86,"height":139,"layer":[
{"data":{"name":"roc"},"transform":[{"filter":"datum.p == 3"}],"mark":{"type":"line","color":"#000","strokeWidth":1},
"encoding":{"x":{"field":"sp","type":"quantitative","title":"specificity","scale":{"domain":[-0.05,1.05],"reverse":true,"nice":false,"zero":false},"axis":{"values":[0,0.25,0.5,0.75,1],"format":".2f","titlePadding":1,"labelFontSize":7.8,"labelOverlap":false,"labelSeparation":0}},"y":{"field":"se","type":"quantitative","title":"sensitivity","scale":{"domain":[-0.05,1.05],"nice":false,"zero":false},"axis":{"values":[0,0.25,0.5,0.75,1],"format":".2f","minExtent":22,"maxExtent":22}},"order":{"field":"i","type":"quantitative"}}},
{"data":{"name":"auc"},"transform":[{"filter":"datum.p == 3"}],"mark":{"type":"text","fontSize":8.8,"color":"#000"},
"encoding":{"x":{"field":"sp","type":"quantitative","title":"specificity","scale":{"domain":[-0.05,1.05],"reverse":true,"nice":false,"zero":false}},"y":{"field":"se","type":"quantitative","title":"sensitivity","scale":{"domain":[-0.05,1.05],"nice":false,"zero":false}},"text":{"field":"t"}}}
]},
{"width":86,"height":139,"layer":[
{"data":{"name":"roc"},"transform":[{"filter":"datum.p == 4"}],"mark":{"type":"line","color":"#000","strokeWidth":1},
"encoding":{"x":{"field":"sp","type":"quantitative","title":"specificity","scale":{"domain":[-0.05,1.05],"reverse":true,"nice":false,"zero":false},"axis":{"values":[0,0.25,0.5,0.75,1],"format":".2f","titlePadding":1,"labelFontSize":7.8,"labelOverlap":false,"labelSeparation":0}},"y":{"field":"se","type":"quantitative","title":"sensitivity","scale":{"domain":[-0.05,1.05],"nice":false,"zero":false},"axis":{"values":[0,0.25,0.5,0.75,1],"format":".2f","minExtent":22,"maxExtent":22}},"order":{"field":"i","type":"quantitative"}}},
{"data":{"name":"auc"},"transform":[{"filter":"datum.p == 4"}],"mark":{"type":"text","fontSize":8.8,"color":"#000"},
"encoding":{"x":{"field":"sp","type":"quantitative","title":"specificity","scale":{"domain":[-0.05,1.05],"reverse":true,"nice":false,"zero":false}},"y":{"field":"se","type":"quantitative","title":"sensitivity","scale":{"domain":[-0.05,1.05],"nice":false,"zero":false}},"text":{"field":"t"}}}
]},
{"width":86,"height":139,"layer":[
{"data":{"name":"roc"},"transform":[{"filter":"datum.p == 5"}],"mark":{"type":"line","color":"#000","strokeWidth":1},
"encoding":{"x":{"field":"sp","type":"quantitative","title":"specificity","scale":{"domain":[-0.05,1.05],"reverse":true,"nice":false,"zero":false},"axis":{"values":[0,0.25,0.5,0.75,1],"format":".2f","titlePadding":1,"labelFontSize":7.8,"labelOverlap":false,"labelSeparation":0}},"y":{"field":"se","type":"quantitative","title":"sensitivity","scale":{"domain":[-0.05,1.05],"nice":false,"zero":false},"axis":{"values":[0,0.25,0.5,0.75,1],"format":".2f","minExtent":22,"maxExtent":22}},"order":{"field":"i","type":"quantitative"}}},
{"data":{"name":"auc"},"transform":[{"filter":"datum.p == 5"}],"mark":{"type":"text","fontSize":8.8,"color":"#000"},
"encoding":{"x":{"field":"sp","type":"quantitative","title":"specificity","scale":{"domain":[-0.05,1.05],"reverse":true,"nice":false,"zero":false}},"y":{"field":"se","type":"quantitative","title":"sensitivity","scale":{"domain":[-0.05,1.05],"nice":false,"zero":false}},"text":{"field":"t"}}}
]},
{"width":86,"height":139,"layer":[
{"data":{"name":"roc"},"transform":[{"filter":"datum.p == 6"}],"mark":{"type":"line","color":"#000","strokeWidth":1},
"encoding":{"x":{"field":"sp","type":"quantitative","title":"specificity","scale":{"domain":[-0.05,1.05],"reverse":true,"nice":false,"zero":false},"axis":{"values":[0,0.25,0.5,0.75,1],"format":".2f","titlePadding":1,"labelFontSize":7.8,"labelOverlap":false,"labelSeparation":0}},"y":{"field":"se","type":"quantitative","title":"sensitivity","scale":{"domain":[-0.05,1.05],"nice":false,"zero":false},"axis":{"values":[0,0.25,0.5,0.75,1],"format":".2f","minExtent":22,"maxExtent":22}},"order":{"field":"i","type":"quantitative"}}},
{"data":{"name":"auc"},"transform":[{"filter":"datum.p == 6"}],"mark":{"type":"text","fontSize":8.8,"color":"#000"},
"encoding":{"x":{"field":"sp","type":"quantitative","title":"specificity","scale":{"domain":[-0.05,1.05],"reverse":true,"nice":false,"zero":false}},"y":{"field":"se","type":"quantitative","title":"sensitivity","scale":{"domain":[-0.05,1.05],"nice":false,"zero":false}},"text":{"field":"t"}}}
]}
]}
]
}
